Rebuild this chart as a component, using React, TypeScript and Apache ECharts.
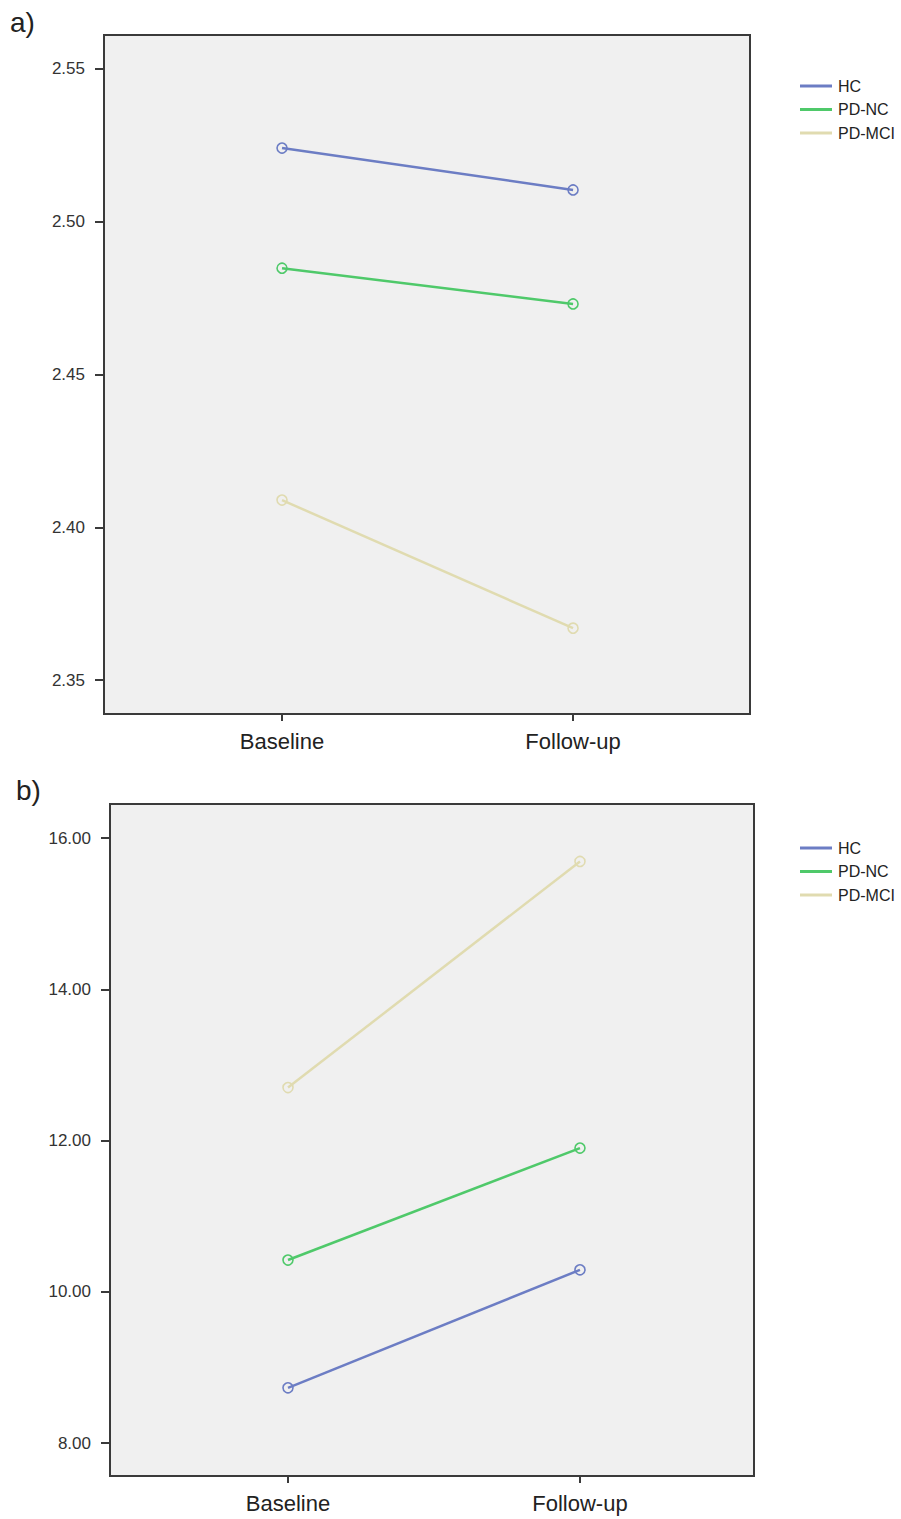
import React, { useEffect, useRef } from "react";
import * as echarts from "echarts";

const timePoints = ["Baseline", "Follow-up"];
const groups = ["HC", "PD-NC", "PD-MCI"];
const groupColors = ["#6c7dc4", "#4fc96a", "#e0dbb0"];

// Panel a
const aHC = [2.5241, 2.5104];
const aPDNC = [2.4848, 2.4731];
const aPDMCI = [2.4089, 2.367];
const aTicks = [2.35, 2.4, 2.45, 2.5, 2.55];

// Panel b
const bHC = [8.73, 10.29];
const bPDNC = [10.42, 11.9];
const bPDMCI = [12.7, 15.69];
const bTicks = [8, 10, 12, 14, 16];

const FONT = "Liberation Sans, Arial, sans-serif";
const AXIS = "#3a3a3a";

function xAxisFor(gridIndex: number, min: number, max: number) {
  return {
    type: "value",
    gridIndex,
    min,
    max,
    axisLine: { show: true, onZero: false, lineStyle: { color: AXIS, width: 2 } },
    axisTick: { show: true, customValues: [0, 1], length: 7, lineStyle: { color: AXIS, width: 2 } },
    axisLabel: {
      customValues: [0, 1],
      formatter: (v: number) => timePoints[Math.round(v)] ?? "",
      color: "#222",
      fontSize: 22,
      fontFamily: FONT,
      margin: 16,
    },
    splitLine: { show: false },
  };
}

function yAxisFor(gridIndex: number, min: number, max: number, ticks: number[]) {
  return {
    type: "value",
    gridIndex,
    min,
    max,
    axisLine: { show: true, onZero: false, lineStyle: { color: AXIS, width: 2 } },
    axisTick: { show: true, customValues: ticks, length: 9, lineStyle: { color: AXIS, width: 2 } },
    axisLabel: {
      customValues: ticks,
      formatter: (v: number) => v.toFixed(2),
      color: "#333",
      fontSize: 17,
      fontFamily: FONT,
      margin: 19,
    },
    splitLine: { show: false },
  };
}

function lineSeries(name: string, color: string, vals: number[], idx: number) {
  return {
    type: "line",
    name,
    xAxisIndex: idx,
    yAxisIndex: idx,
    data: vals.map((v, i) => [i, v]),
    symbol: "circle",
    symbolSize: 10,
    lineStyle: { color, width: 2.5 },
    itemStyle: { color: "rgba(0,0,0,0)", borderColor: color, borderWidth: 1.6 },
    emphasis: { disabled: true },
  };
}

function legendFor(top: number) {
  return {
    orient: "vertical",
    left: 800,
    top,
    padding: 0,
    icon: "rect",
    itemWidth: 32,
    itemHeight: 3,
    itemGap: 7.5,
    data: groups.map((g, i) => ({ name: g, itemStyle: { color: groupColors[i], borderWidth: 0 } })),
    textStyle: { fontSize: 16, fontFamily: FONT, color: "#222", padding: [0, 0, 0, 1] },
    selectedMode: false,
  };
}

export default function App() {
  const ref = useRef<HTMLDivElement>(null);
  useEffect(() => {
    if (!ref.current) return;
    const chart = echarts.init(ref.current, undefined, { renderer: "svg" });
    const aSeries = [aHC, aPDNC, aPDMCI];
    const bSeries = [bHC, bPDNC, bPDMCI];
    chart.setOption({
      animation: false,
      backgroundColor: "#ffffff",
      grid: [
        { left: 104, top: 35, width: 646, height: 679, show: true, backgroundColor: "#f0f0f0", borderColor: AXIS, borderWidth: 2 },
        { left: 110, top: 804, width: 644, height: 672, show: true, backgroundColor: "#f0f0f0", borderColor: AXIS, borderWidth: 2 },
      ],
      xAxis: [xAxisFor(0, -0.6117, 1.608), xAxisFor(1, -0.6096, 1.596)],
      yAxis: [yAxisFor(0, 2.3389, 2.5611, aTicks), yAxisFor(1, 7.564, 16.45, bTicks)],
      legend: [legendFor(78), legendFor(840)],
      series: [
        ...aSeries.map((d, i) => lineSeries(groups[i], groupColors[i], d, 0)),
        ...bSeries.map((d, i) => lineSeries(groups[i], groupColors[i], d, 1)),
      ],
      graphic: [
        { type: "text", left: 10, top: 8, style: { text: "a)", fontSize: 28, fontFamily: FONT, fill: "#222" } },
        { type: "text", left: 16, top: 776, style: { text: "b)", fontSize: 28, fontFamily: FONT, fill: "#222" } },
      ],
    });
    return () => chart.dispose();
  }, []);
  return <div ref={ref} style={{ position: "absolute", left: 0, top: 0, width: 901, height: 1519 }} />;
}
